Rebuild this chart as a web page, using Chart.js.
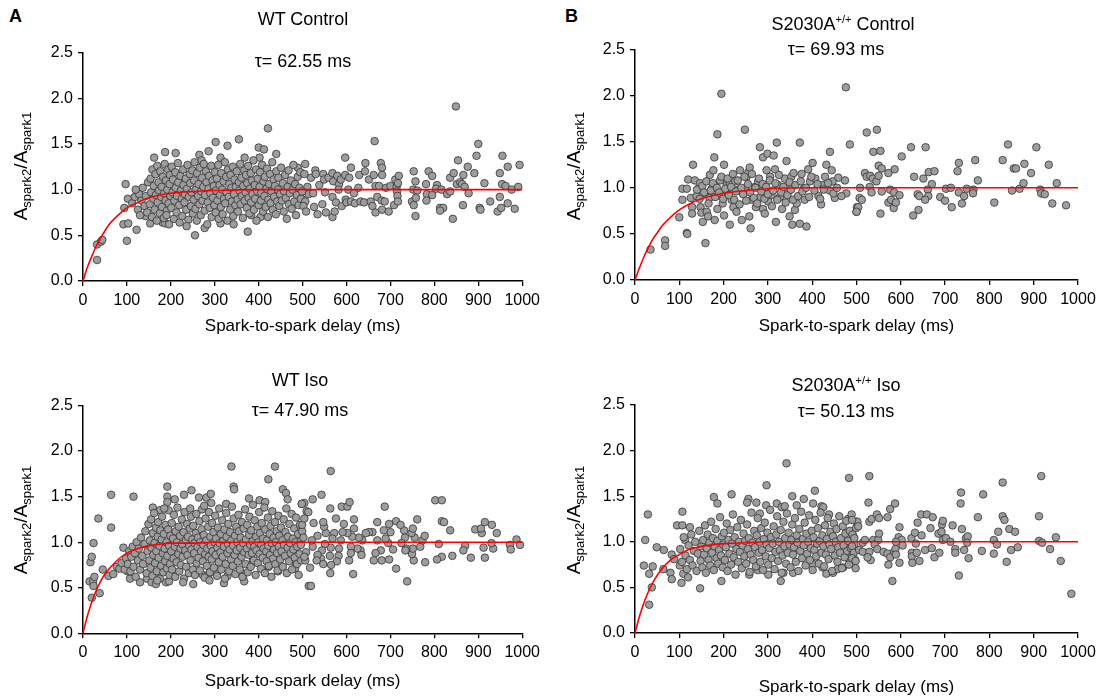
<!DOCTYPE html>
<html lang="en">

<head>
    <meta charset="UTF-8">
    <title>Spark-to-spark restitution</title>
    <script src="https://cdn.jsdelivr.net/npm/chart.js"></script>
    <style>
        body { margin: 0; background: #fff; }
        #figura { position: relative; width: 1102px; height: 698px; font-family: "Liberation Sans", Arial, sans-serif; color: #000; }
        #figura canvas { position: absolute; }
        .texto { position: absolute; text-align: center; font-size: 18px; line-height: 22px; white-space: nowrap; z-index: 2; }
        .letra { position: absolute; font-size: 18px; font-weight: bold; z-index: 2; }
        .eixoY { position: absolute; width: 160px; height: 24px; line-height: 24px; text-align: center; font-size: 19px; transform: rotate(-90deg); white-space: nowrap; z-index: 2; }
        .eixoY sub { font-size: 13px; vertical-align: -4px; }
        sup { font-size: 11px; vertical-align: 7px; }
    </style>
</head>

<body>

    <div id="figura">
        <!--Letras dos paineis-->
        <div class="letra" style="left:9px;top:6px">A</div>
        <div class="letra" style="left:565px;top:6px">B</div>

        <!--Titulos-->
        <div class="texto" style="left:203px;top:8px;width:200px">WT Control</div>
        <div class="texto" style="left:203px;top:50px;width:200px">τ= 62.55 ms</div>
        <div class="texto" style="left:743px;top:8px;width:200px">S2030A<sup>+/+</sup> Control</div>
        <div class="texto" style="left:736px;top:38px;width:200px">τ= 69.93 ms</div>
        <div class="texto" style="left:200px;top:369px;width:200px">WT Iso</div>
        <div class="texto" style="left:200px;top:399px;width:200px">τ= 47.90 ms</div>
        <div class="texto" style="left:746px;top:369px;width:200px">S2030A<sup>+/+</sup> Iso</div>
        <div class="texto" style="left:746px;top:400px;width:200px">τ= 50.13 ms</div>

        <!--Titulos do eixo Y-->
        <div class="eixoY" style="left:-59px;top:154px">A<sub>spark2</sub>/A<sub>spark1</sub></div>
        <div class="eixoY" style="left:494px;top:154px">A<sub>spark2</sub>/A<sub>spark1</sub></div>
        <div class="eixoY" style="left:-59px;top:508px">A<sub>spark2</sub>/A<sub>spark1</sub></div>
        <div class="eixoY" style="left:494px;top:508px">A<sub>spark2</sub>/A<sub>spark1</sub></div>

        <canvas id="chartWtControl" width="545" height="320" style="left:0;top:30px"></canvas>
        <canvas id="chartS2030Control" width="550" height="320" style="left:552px;top:30px"></canvas>
        <canvas id="chartWtIso" width="545" height="313" style="left:0;top:385px"></canvas>
        <canvas id="chartS2030Iso" width="550" height="313" style="left:552px;top:385px"></canvas>
    </div>

</body>

</html>
<script>

    // ticks dos eixos
    const xTicks = [0, 100, 200, 300, 400, 500, 600, 700, 800, 900, 1000];
    const yTicks = [0, 0.5, 1.0, 1.5, 2.0, 2.5];

    // curvas de ajuste (x em ms)
    const fitX = [0, 10, 20, 30, 40, 50, 60, 80, 100, 125, 150, 200, 250, 300, 400, 500, 700, 1000];
    const fitWtControl = [0, 0.15, 0.27, 0.38, 0.47, 0.55, 0.62, 0.72, 0.80, 0.86, 0.91, 0.96, 0.98, 0.99, 1.0, 1.0, 1.0, 1.0];
    const fitS2030Control = [0, 0.13, 0.25, 0.35, 0.44, 0.51, 0.58, 0.68, 0.76, 0.83, 0.88, 0.94, 0.97, 0.99, 1.0, 1.0, 1.0, 1.0];
    const fitWtIso = [0, 0.19, 0.34, 0.47, 0.57, 0.65, 0.71, 0.81, 0.88, 0.93, 0.96, 0.99, 0.99, 1.0, 1.0, 1.0, 1.0, 1.0];
    const fitS2030Iso = [0, 0.18, 0.33, 0.45, 0.55, 0.63, 0.70, 0.80, 0.86, 0.92, 0.95, 0.98, 0.99, 1.0, 1.0, 1.0, 1.0, 1.0];

    // WT Control - [delay (ms), Aspark2/Aspark1]
    const wtControlPts = [
        [32,0.23],[32,0.40],[41,0.43],[44,0.45],[100,0.44],[92,0.62],[103,0.63],[97,1.06],[102,0.90],[94,0.80],[122,0.56],[142,0.71],[153,0.63],[181,0.64],[187,0.63],[255,0.50],[277,0.58],[313,0.63],[375,0.54],[383,0.72],[404,0.70],
        [162,1.35],[187,1.41],[211,1.40],[265,1.38],[286,1.42],[302,1.52],[329,1.48],[355,1.55],[400,1.46],[412,1.44],[421,1.67],[440,1.39],[402,1.35],[368,1.35],[313,1.35],[270,1.32],[489,1.24],[849,1.91],
        [112,0.85],[118,0.92],[125,0.78],[128,0.95],[133,0.88],[136,1.02],[140,0.82],[143,0.93],[146,0.75],[148,1.08],[130,0.72],[120,1.0],
        [152,0.84],[154,1.12],[155,0.97],[157,0.70],[158,1.22],[160,0.90],[161,1.04],[163,0.78],[165,1.17],[166,0.94],[168,0.66],[169,1.26],[170,0.86],[172,1.08],[173,0.99],[175,0.74],[176,1.20],[178,0.92],[179,1.03],[180,0.81],[182,1.14],[184,0.69],[185,0.96],[186,1.28],[188,0.88],[189,1.10],[191,0.77],[192,1.00],[194,1.22],[195,0.85],[196,0.62],[197,1.06],[199,0.93],[198,1.16],[190,0.72],
        [201,0.80],[202,1.25],[204,0.97],[205,1.11],[207,0.68],[208,0.88],[210,1.19],[211,1.02],[213,0.75],[214,0.93],[216,1.29],[217,1.08],[219,0.83],[220,0.64],[222,1.15],[223,0.99],[225,0.90],[226,0.71],[228,1.22],[229,1.05],[231,0.86],[232,0.95],[234,1.12],[235,0.78],[237,1.01],[238,1.27],[240,0.67],[241,0.92],[243,1.17],[244,1.07],[246,0.82],[247,0.97],[249,1.21],[250,0.74],[236,0.60],
        [252,0.89],[253,1.10],[254,1.30],[256,0.79],[257,1.00],[259,0.66],[260,1.18],[262,0.93],[263,1.06],[265,0.84],[266,1.24],[268,0.72],[269,0.98],[271,1.13],[272,0.88],[274,1.03],[275,1.28],[277,0.77],[278,0.94],[280,1.20],[281,1.08],[283,0.62],[284,0.86],[286,1.01],[287,1.15],[289,0.80],[290,0.96],[292,1.26],[293,0.70],[295,1.10],[296,0.91],[298,1.04],[299,0.83],[300,1.19],
        [302,0.75],[303,0.99],[305,1.12],[306,0.88],[308,1.27],[309,0.68],[311,1.05],[312,0.94],[314,0.81],[315,1.18],[317,1.00],[318,0.73],[320,1.09],[321,0.90],[323,1.30],[324,0.85],[326,1.14],[327,0.97],[329,0.66],[330,1.22],[332,0.92],[333,1.06],[335,0.78],[336,1.16],[338,1.02],[339,0.87],[341,1.25],[342,0.71],[344,0.95],[345,1.11],[347,0.83],[348,1.03],[350,1.20],[343,0.62],
        [352,0.89],[353,0.76],[355,1.08],[356,0.99],[358,1.28],[359,0.84],[361,1.13],[362,0.93],[364,0.69],[365,1.04],[367,1.21],[368,0.88],[370,0.97],[371,1.16],[373,0.80],[374,1.07],[376,1.26],[377,0.91],[379,0.74],[380,1.01],[382,1.18],[383,0.86],[385,1.10],[386,0.95],[388,1.32],[389,0.78],[391,1.05],[392,0.90],[394,1.22],[395,0.66],[397,0.98],[398,1.12],[400,0.83],
        [402,1.03],[403,1.19],[405,0.88],[406,0.96],[408,1.27],[410,0.76],[411,1.09],[413,0.93],[414,1.14],[416,0.81],[418,1.01],[419,1.23],[421,0.70],[422,0.89],[424,1.06],[426,1.17],[427,0.85],[429,0.98],[431,1.30],[432,0.78],[434,1.11],[435,0.92],[437,1.04],[439,0.73],[440,1.20],[442,0.87],[444,1.00],[445,1.13],[447,0.82],[449,0.95],
        [451,1.24],[453,0.88],[455,1.07],[457,0.76],[458,0.98],[460,1.16],[462,0.91],[464,0.68],[466,1.03],[468,1.21],[469,0.84],[471,0.96],[473,1.10],[475,0.79],[477,1.00],[479,1.27],[481,0.87],[483,1.06],[485,0.72],[487,0.94],[489,1.14],[491,0.83],[493,1.02],[495,1.19],[497,0.90],
        [506,1.28],[504,1.17],[511,1.03],[496,0.90],[506,0.87],[502,0.82],[508,0.76],[514,0.95],[499,0.98],[519,1.13],[529,1.21],[530,1.17],[524,0.96],[526,0.81],[534,0.73],[538,1.05],[547,1.17],[549,1.11],[551,0.97],[545,0.84],[553,0.75],[559,1.13],[568,1.18],[570,1.09],[568,0.92],[576,0.86],[568,0.70],[573,0.76],[579,1.15],[583,1.06],[587,1.11],[582,1.00],[589,0.82],
        [597,1.35],[597,1.16],[598,0.89],[600,0.86],[604,1.00],[606,1.13],[610,1.24],[610,0.87],[617,0.96],[619,0.85],[627,1.02],[629,1.16],[632,0.87],[640,0.86],[642,1.20],[643,1.29],[651,1.11],[655,0.87],[659,0.82],[662,1.16],[664,1.53],[666,1.04],[666,0.75],[670,0.92],[674,1.04],[678,1.29],[681,1.24],[681,1.16],[680,0.88],[681,0.78],[687,0.87],[690,1.02],[696,0.76],[700,1.04],
        [708,0.83],[711,1.11],[714,1.03],[715,0.98],[716,0.93],[717,0.87],[719,1.15],[717,1.07],[753,1.20],[752,1.00],[749,0.87],[757,1.09],[761,0.99],[757,0.71],[758,0.91],[753,0.83],[781,1.06],[783,0.95],[782,0.88],[787,1.20],[795,1.15],[795,0.94],[806,1.05],[804,1.01],[813,0.80],[816,1.00],[820,0.80],[813,0.77],
        [829,0.95],[836,1.13],[836,0.98],[842,0.68],[844,1.18],[854,1.32],[851,1.06],[859,1.08],[863,1.06],[865,0.83],[866,1.16],[869,1.03],[876,1.25],[878,0.96],[891,1.18],[896,1.37],[900,1.50],[903,0.80],[905,0.78],[914,1.07],[927,0.87],[944,0.76],[949,1.18],[949,0.92],[952,0.80],[954,1.06],[955,1.37],[962,1.04],[967,1.25],[967,0.85],[976,1.00],[983,0.79],[991,1.03],[994,1.27]
    ];

    // S2030A+/+ Control
    const s2030ControlPts = [
        [35,0.33],[68,0.43],[68,0.37],[117,0.51],[118,0.50],[159,0.40],[100,0.68],[107,0.87],[107,0.99],[117,0.99],[120,1.09],[126,0.89],[131,1.25],[135,1.08],[129,0.79],[129,0.72],[139,0.91],[143,0.99],[147,1.05],[148,0.79],[150,0.73],[153,0.63],[158,0.94],[162,0.74],[165,0.69],[169,1.14],[168,0.89],[173,0.99],[177,1.19],[179,1.33],[180,0.65],[186,1.58],[195,2.02],[186,0.77],[188,0.92],[192,1.08],[198,0.83],[201,1.25],[201,0.70],[207,1.03],[207,0.96],[214,0.60],[214,1.05],[218,0.87],[222,0.79],[226,1.07],[229,0.74],[233,0.98],[237,1.19],[241,0.65],
        [248,1.63],[248,0.99],[252,1.12],[256,1.17],[258,0.69],[261,0.56],[259,1.22],[263,0.87],[271,1.01],[273,0.79],[278,1.07],[282,1.44],[283,0.90],[289,1.33],[289,0.77],[293,0.72],[297,1.19],[299,1.37],[301,0.85],[305,1.12],[308,0.92],[313,1.35],[316,1.20],[318,0.63],[320,1.49],[323,1.03],[327,0.90],[332,0.77],[338,1.10],[342,1.29],[346,0.96],[349,0.69],[353,1.12],[355,0.60],[358,1.16],[361,0.76],[365,0.83],[372,1.49],[372,0.61],[376,1.15],[381,0.99],[383,0.87],[387,0.58],[391,1.20],[395,1.07],
        [401,1.27],[407,1.10],[414,0.91],[420,0.82],[423,1.03],[429,1.12],[432,1.25],[440,1.39],[440,0.97],[444,1.19],[446,1.07],[451,0.89],[459,1.11],[474,1.08],[476,2.09],[477,0.94],[485,1.47],[500,0.74],[501,0.79],[507,0.89],
        [140,0.98],[146,0.88],[152,1.02],[156,0.95],[161,1.07],[166,0.83],[171,0.97],[176,1.05],[181,0.90],[185,1.00],[190,0.95],[195,1.12],[199,0.88],[204,0.99],[209,1.10],[212,0.92],[217,1.01],[221,1.15],[224,0.87],[228,0.96],[232,1.08],[236,0.82],[240,1.00],[244,0.93],[247,1.12],[251,0.86],[255,1.04],[260,0.95],[264,1.15],[268,0.89],[272,1.00],[276,0.83],[280,1.10],[285,0.96],[288,1.04],[292,0.88],[296,1.01],[300,0.93],[304,1.08],[309,0.80],[312,0.97],[317,1.05],[321,0.87],[325,1.14],[330,0.95],[335,1.01],[340,0.84],[344,0.92],[349,1.06],[352,0.98],[357,0.87],[362,1.03],[368,0.91],[374,1.07],[378,0.96],[386,1.00],[393,0.90],[398,1.12],[405,0.97],[412,1.04],[418,0.88],[426,0.98],[436,1.05],[448,0.94],[456,1.00],[466,0.91],
        [523,1.60],[546,1.63],[538,1.39],[554,1.40],[550,1.24],[557,1.21],[586,1.20],[519,1.16],[523,1.12],[531,1.13],[537,1.10],[545,1.07],[550,1.13],[572,1.16],[508,1.00],[530,1.01],[534,0.95],[557,0.96],[576,0.98],[585,0.95],[597,0.92],[512,0.87],[504,0.79],[500,0.74],[572,0.84],[578,0.87],[584,0.78],[589,0.84],[554,0.72],
        [602,1.34],[623,1.44],[630,1.12],[651,1.10],[656,1.44],[663,1.17],[676,1.18],[670,1.04],[661,0.98],[638,0.93],[642,0.91],[662,0.91],[655,0.87],[628,0.70],[640,0.76],[689,0.90],[700,0.86],[702,0.99],[713,1.00],[715,0.79],[728,1.18],[731,1.27],[731,0.95],[738,0.83],[743,0.91],[749,0.99],[764,0.98],[763,0.94],[768,1.30],[774,1.08],
        [811,0.84],[830,1.30],[842,1.47],[851,0.97],[855,1.21],[860,1.21],[868,0.99],[877,1.05],[879,1.26],[894,1.16],[906,1.44],[915,0.98],[917,0.94],[925,0.93],[934,1.25],[942,0.83],[952,1.05],[973,0.81]
    ];

    // WT Iso
    const wtIsoPts = [
        [17,0.78],[20,0.84],[24,0.99],[15,0.57],[23,0.57],[26,0.62],[24,0.52],[20,0.39],[38,0.44],[35,1.26],[45,0.70],[64,1.16],[64,1.52],[58,0.63],[69,0.65],[77,0.73],[83,0.71],[88,0.77],[92,0.94],[101,0.68],[107,0.60],[115,1.50],[130,0.56],[146,0.60],[156,0.56],[166,0.54],[189,0.56],[196,0.57],
        [192,1.61],[192,1.50],[192,1.44],[159,1.38],[175,1.35],[209,1.47],[230,1.52],[247,1.57],[264,1.49],[281,1.49],[291,1.53],[292,1.43],[326,1.42],[338,1.83],[343,1.61],[344,1.58],[378,1.48],[402,1.46],[415,1.44],[422,1.69],[437,1.83],[455,1.58],[462,1.54],[466,1.47],[498,1.42],
        [251,0.54],[273,0.64],[285,0.64],[304,0.65],[321,0.55],[329,0.63],[362,0.65],[364,0.62],[367,0.57],[387,0.80],[423,0.73],[444,0.68],[483,0.71],[485,0.77],[514,0.52],
        [95,0.70],[98,0.82],[102,0.76],[105,0.90],[108,0.68],[110,0.84],[113,0.95],[115,0.73],[118,0.88],[120,0.62],[122,1.00],[125,0.80],[127,0.93],[130,0.70],[132,1.05],[135,0.85],[137,0.76],[140,0.98],[142,1.12],[145,0.66],[147,0.90],[149,1.20],
        [151,0.80],[152,1.02],[154,0.72],[155,1.25],[156,0.94],[158,0.63],[159,1.10],[160,0.86],[162,1.32],[163,0.99],[164,0.77],[166,1.16],[167,0.90],[168,0.68],[170,1.06],[171,1.22],[172,0.83],[174,0.96],[175,0.60],[176,1.13],[178,0.74],[179,1.03],[180,1.28],[182,0.88],[183,0.67],[184,1.09],[186,0.93],[187,0.79],[188,1.19],[190,1.00],[191,0.71],[192,0.85],[194,1.14],[195,1.35],[196,0.96],[198,0.76],[199,1.07],[197,0.64],[185,1.37],[169,0.58],
        [201,0.90],[202,1.21],[203,0.70],[205,1.04],[206,0.82],[207,1.30],[209,0.95],[210,0.62],[211,1.12],[213,0.78],[214,1.00],[215,1.38],[217,0.87],[218,1.17],[219,0.68],[221,1.07],[222,0.93],[223,0.75],[225,1.25],[226,0.98],[227,0.84],[229,1.11],[230,0.60],[231,1.33],[233,0.91],[234,1.02],[235,0.73],[237,1.20],[238,0.86],[239,1.06],[241,0.66],[242,0.96],[243,1.15],[245,0.80],[246,1.28],[247,0.92],[249,1.03],[250,0.70],[244,1.37],[228,0.56],
        [251,1.18],[253,0.88],[254,0.99],[255,0.64],[257,1.10],[258,1.31],[259,0.77],[261,0.95],[262,1.05],[263,0.83],[265,1.23],[266,0.69],[267,1.00],[269,0.90],[270,1.14],[271,1.36],[273,0.79],[274,0.97],[275,1.08],[277,0.61],[278,0.87],[279,1.26],[281,1.02],[282,0.74],[283,0.93],[285,1.17],[286,0.84],[287,1.33],[289,0.67],[290,1.06],[291,0.96],[293,0.81],[294,1.21],[295,0.90],[297,1.11],[298,0.72],[299,1.00],[276,1.40],[288,0.58],
        [301,1.29],[302,0.86],[303,1.04],[305,0.63],[306,0.94],[307,1.16],[309,0.78],[310,1.37],[311,0.99],[313,0.89],[314,1.09],[315,0.70],[317,1.24],[318,0.84],[319,1.01],[321,0.95],[322,1.14],[323,0.60],[325,0.76],[326,1.32],[327,1.06],[329,0.88],[330,0.98],[331,1.20],[333,0.68],[334,0.92],[335,1.11],[337,0.81],[338,1.02],[339,1.39],[341,0.74],[342,0.96],[343,1.26],[345,0.86],[346,1.07],[347,0.65],[349,1.17],[350,0.91],
        [351,1.00],[353,0.79],[354,1.30],[355,1.12],[357,0.70],[358,0.94],[359,1.05],[361,0.84],[362,1.22],[363,0.62],[365,0.99],[366,1.15],[367,0.89],[369,1.36],[370,0.76],[371,1.03],[373,0.93],[374,1.19],[375,0.67],[377,0.86],[378,1.08],[379,1.28],[381,0.97],[382,0.73],[383,1.13],[385,0.88],[386,1.01],[387,1.41],[389,0.80],[390,0.95],[391,1.24],[393,0.64],[394,1.06],[395,0.91],[397,1.17],[398,0.77],[399,1.00],
        [401,1.33],[402,0.87],[403,1.10],[405,0.71],[406,0.97],[407,1.21],[409,0.83],[410,1.04],[411,0.93],[413,1.38],[414,0.66],[415,1.14],[417,0.90],[418,0.79],[419,1.02],[421,1.27],[422,0.96],[423,0.74],[425,1.09],[426,0.86],[427,1.18],[429,0.62],[430,0.99],[431,1.34],[433,0.82],[434,1.05],[435,0.92],[437,1.22],[438,0.76],[439,1.00],[441,1.12],[442,0.88],[443,0.69],[445,1.29],[446,0.95],[447,1.07],[449,0.81],
        [451,1.16],[452,0.90],[454,1.02],[455,0.73],[457,1.25],[458,0.97],[460,0.85],[461,1.11],[463,1.37],[464,0.66],[466,0.94],[467,1.06],[469,0.79],[470,1.20],[472,0.99],[473,0.88],[475,1.31],[476,0.70],[478,1.04],[479,0.92],[481,1.15],[482,0.83],[484,1.00],[485,1.27],[487,0.76],[488,0.95],[490,1.09],[491,0.64],[493,0.87],[494,1.19],[496,1.01],[497,0.80],[499,1.12],
        [564,1.78],[543,1.52],[523,1.47],[504,1.43],[498,1.42],[509,1.34],[513,1.33],[563,1.37],[589,1.39],[602,1.39],[607,1.44],[617,1.25],[687,1.39],[670,1.22],[697,1.20],[713,1.23],[761,1.25],[802,1.46],[817,1.46],[817,1.23],[822,1.22],[836,1.13],[893,1.14],[908,1.10],[906,1.15],[915,1.22],[931,1.19],[942,1.10],[972,0.97],[987,1.03],[995,0.97],[974,0.92],
        [934,0.93],[930,0.99],[912,0.94],[915,0.83],[883,0.83],[870,0.96],[866,0.91],[841,0.85],[817,0.84],[806,0.81],[810,0.98],[779,0.78],[768,0.95],[773,1.02],[778,1.07],[753,0.80],[749,0.87],[751,0.93],[755,1.05],[748,1.10],[751,1.15],[738,0.57],[736,0.93],[734,0.91],[733,1.05],[731,1.13],[723,1.19],[725,0.99],[713,0.71],[706,0.92],[697,0.81],[695,0.99],[700,1.11],
        [685,1.13],[689,1.04],[680,0.80],[678,0.91],[666,0.88],[662,0.80],[670,1.02],[659,1.11],[651,1.11],[644,1.10],[636,1.02],[632,0.91],[634,0.86],[628,1.05],[625,0.93],[617,1.15],[613,1.06],[615,0.65],[610,0.95],[606,0.80],[610,0.88],[602,1.10],[594,1.20],[591,1.11],[587,1.02],[583,0.93],[582,0.85],[578,0.79],[576,1.26],[572,1.10],[568,1.04],
        [564,0.94],[562,0.85],[565,0.75],[563,0.66],[553,1.10],[551,0.98],[549,1.17],[547,1.22],[544,0.91],[542,0.82],[547,0.76],[534,1.07],[534,0.86],[532,0.80],[523,0.95],[521,1.02],[525,1.21],[517,0.72],[519,0.52],[508,0.89],[506,0.80],[504,0.84],[496,0.97],[502,1.05],[499,1.19],[504,1.26]
    ];

    // S2030A+/+ Iso
    const s2030IsoPts = [
        [32,0.31],[38,0.50],[32,0.65],[20,0.74],[40,0.73],[23,1.02],[29,1.30],[49,0.94],[65,0.91],[64,0.70],[80,0.66],[83,0.59],[83,0.86],[88,0.81],[95,1.18],[105,0.55],[107,1.18],[107,1.33],[101,0.74],[109,0.65],[120,0.61],[124,1.16],[147,0.49],[113,1.02],
        [178,1.49],[186,1.42],[218,1.52],[195,0.57],[256,1.47],[253,1.43],[274,1.43],[282,1.31],[296,1.40],[297,1.62],[320,1.42],[331,1.38],[338,1.39],[342,1.86],[355,1.50],[365,1.40],[381,1.47],[402,1.42],[406,1.56],[421,1.39],[425,1.38],[438,1.30],[483,1.70],[481,1.25],[500,1.22],
        [258,0.64],[277,0.69],[301,0.64],[329,0.57],[335,0.66],[357,0.66],[400,0.76],[423,0.72],[432,0.65],[447,0.66],[457,0.70],[470,0.72],[481,0.82],
        [102,0.92],[106,0.78],[110,1.05],[114,0.85],[117,0.70],[121,0.96],[124,0.80],[127,1.08],[130,0.74],[133,0.90],[136,1.00],[139,0.68],[142,0.87],[145,1.12],[148,0.79],[150,0.95],
        [152,0.72],[154,1.02],[156,0.86],[158,1.18],[160,0.66],[162,0.93],[164,1.08],[166,0.80],[168,0.99],[170,0.74],[172,1.22],[174,0.88],[176,1.04],[178,0.69],[180,0.95],[182,1.14],[184,0.82],[186,1.01],[188,0.76],[190,0.91],[192,1.27],[194,0.85],[196,1.06],[198,0.72],[199,0.97],
        [201,1.10],[203,0.80],[205,0.94],[207,1.20],[209,0.68],[211,1.02],[213,0.87],[215,1.13],[217,0.75],[219,0.98],[221,1.30],[223,0.83],[225,1.05],[227,0.64],[229,0.92],[231,1.16],[233,0.78],[235,1.00],[237,0.89],[239,1.24],[241,0.71],[243,0.96],[245,1.09],[247,0.84],[249,1.01],
        [251,0.76],[253,1.19],[255,0.92],[257,1.04],[259,0.67],[261,0.86],[263,1.32],[265,0.99],[267,0.80],[269,1.12],[271,0.94],[273,0.73],[275,1.07],[277,1.26],[279,0.88],[281,1.00],[283,0.78],[285,1.15],[287,0.91],[289,0.69],[291,1.03],[293,1.21],[295,0.84],[297,0.97],[299,1.10],
        [301,0.75],[303,0.93],[305,1.35],[307,1.05],[309,0.82],[311,0.98],[313,1.17],[315,0.70],[317,0.89],[319,1.08],[321,1.28],[323,0.79],[325,1.00],[327,0.91],[329,1.13],[331,0.66],[333,0.85],[335,1.22],[337,0.95],[339,1.04],[341,0.76],[343,1.31],[345,0.88],[347,1.10],[349,0.97],
        [351,0.72],[353,1.02],[355,1.19],[357,0.86],[359,0.94],[361,1.26],[363,0.78],[365,1.07],[367,0.99],[369,0.68],[371,1.14],[373,0.90],[375,1.33],[377,0.82],[379,1.03],[381,0.96],[383,1.21],[385,0.74],[387,1.09],[389,0.87],[391,1.00],[393,1.29],[395,0.80],[397,0.93],[399,1.12],
        [401,0.69],[403,1.05],[405,0.91],[407,1.24],[409,0.84],[411,0.98],[413,1.15],[415,0.76],[417,1.01],[419,1.32],[421,0.88],[423,1.07],[425,0.95],[427,0.73],[429,1.18],[431,0.86],[433,1.03],[435,1.26],[437,0.81],[439,0.97],[441,1.11],[443,0.92],[445,0.68],[447,1.06],[449,1.20],
        [451,0.85],[453,1.00],[455,1.14],[457,0.78],[459,0.94],[461,1.28],[463,0.88],[465,1.04],[467,0.71],[469,1.17],[471,0.96],[473,0.83],[475,1.09],[477,1.23],[479,0.90],[481,1.01],[483,0.75],[485,1.12],[487,0.93],[489,1.30],[491,0.86],[493,1.06],[495,0.97],[497,0.80],[499,1.15],
        [529,1.72],[527,1.43],[502,1.22],[490,1.24],[504,1.17],[529,1.22],[534,1.25],[546,1.30],[551,1.26],[570,1.27],[576,1.36],[587,1.42],[597,1.16],[491,1.08],[495,1.04],[490,0.95],[494,0.88],[490,0.82],[498,0.79],[498,0.71],
        [514,0.99],[506,0.91],[514,0.89],[519,1.02],[529,0.89],[532,0.80],[525,0.83],[538,1.02],[549,1.02],[551,1.09],[541,0.97],[547,0.92],[561,0.89],[570,0.87],[576,0.83],[572,0.75],[585,0.89],[588,0.92],[589,0.86],[581,0.57],[597,0.77],[595,1.05],[602,1.02],[604,0.96],[589,1.00],
        [624,1.04],[625,0.88],[625,0.84],[626,0.77],[632,1.10],[634,0.98],[636,0.88],[638,1.21],[646,1.30],[659,1.30],[672,1.27],[647,1.07],[655,0.91],[642,0.79],[667,1.15],[685,1.09],[693,1.19],[695,1.23],[670,0.93],[676,0.83],[687,0.88],[692,1.11],[695,1.02],[702,1.04],[712,1.00],[717,1.18],[723,0.92],[723,0.88],[731,0.63],
        [736,1.54],[735,1.42],[738,1.14],[743,0.91],[747,1.04],[751,1.06],[750,0.99],[753,0.82],[774,1.27],[783,0.90],[786,1.52],[810,1.02],[817,0.97],[820,1.11],[810,0.87],[830,1.65],[830,1.28],[834,1.24],[839,0.78],[845,1.14],[858,1.11],[849,0.91],[864,0.94],[912,1.28],[917,1.72],[912,1.01],[919,0.99],[937,0.92],[950,1.05],[961,0.79],[985,0.43]
    ];

    function criarPainel(id, pontos, curvaY, cfg) {
        const curva = fitX.map(function (x, i) { return { x: x, y: curvaY[i] }; });
        const dados = pontos.map(function (p) { return { x: p[0], y: p[1] }; });

        const fonteTick = { family: '"Liberation Sans", Arial, sans-serif', size: 16 };
        const grade = { display: true, drawOnChartArea: false, drawTicks: true, tickLength: 5, color: '#000', lineWidth: 1.3 };
        const borda = { display: true, color: '#000', width: 1.5 };

        return new Chart(document.getElementById(id), {
            type: 'scatter',
            data: {
                datasets: [
                    {
                        type: 'line',
                        data: curva,
                        borderColor: '#ff0000',
                        borderWidth: 1.6,
                        pointRadius: 0,
                        fill: false,
                        cubicInterpolationMode: 'monotone',
                        clip: false
                    },
                    {
                        data: dados,
                        backgroundColor: '#9d9d9d',
                        borderColor: '#333333',
                        borderWidth: 0.8,
                        pointRadius: 3.8,
                        clip: false
                    }
                ]
            },
            options: {
                responsive: false,
                animation: false,
                events: [],
                layout: { padding: { top: cfg.top, right: cfg.right, left: 0, bottom: 0 } },
                plugins: { legend: { display: false }, tooltip: { enabled: false } },
                scales: {
                    x: {
                        type: 'linear',
                        min: 0,
                        max: 1000,
                        afterFit: function (s) { s.height = cfg.xh; },
                        afterBuildTicks: function (s) { s.ticks = xTicks.map(function (v) { return { value: v }; }); },
                        ticks: { autoSkip: false, maxRotation: 0, color: '#000', font: fonteTick, padding: 5, callback: function (v) { return String(v); } },
                        grid: grade,
                        border: borda,
                        title: {
                            display: true,
                            text: 'Spark-to-spark delay (ms)',
                            color: '#000',
                            font: { family: '"Liberation Sans", Arial, sans-serif', size: 17 },
                            padding: { top: 0, bottom: cfg.tb }
                        }
                    },
                    y: {
                        min: 0,
                        max: 2.5,
                        afterFit: function (s) { s.width = cfg.yw; },
                        afterBuildTicks: function (s) { s.ticks = yTicks.map(function (v) { return { value: v }; }); },
                        ticks: { color: '#000', font: fonteTick, padding: 5, callback: function (v) { return v.toFixed(1); } },
                        grid: grade,
                        border: borda
                    }
                }
            }
        });
    }

    criarPainel('chartWtControl', wtControlPts, fitWtControl, { top: 22.5, right: 21, xh: 69, yw: 83, tb: 13.8 });
    criarPainel('chartS2030Control', s2030ControlPts, fitS2030Control, { top: 19.5, right: 24, xh: 70, yw: 83, tb: 13.8 });
    criarPainel('chartWtIso', wtIsoPts, fitWtIso, { top: 20.5, right: 21, xh: 64.7, yw: 83, tb: 6.8 });
    criarPainel('chartS2030Iso', s2030IsoPts, fitS2030Iso, { top: 20, right: 24, xh: 65, yw: 83, tb: 0 });

</script>
